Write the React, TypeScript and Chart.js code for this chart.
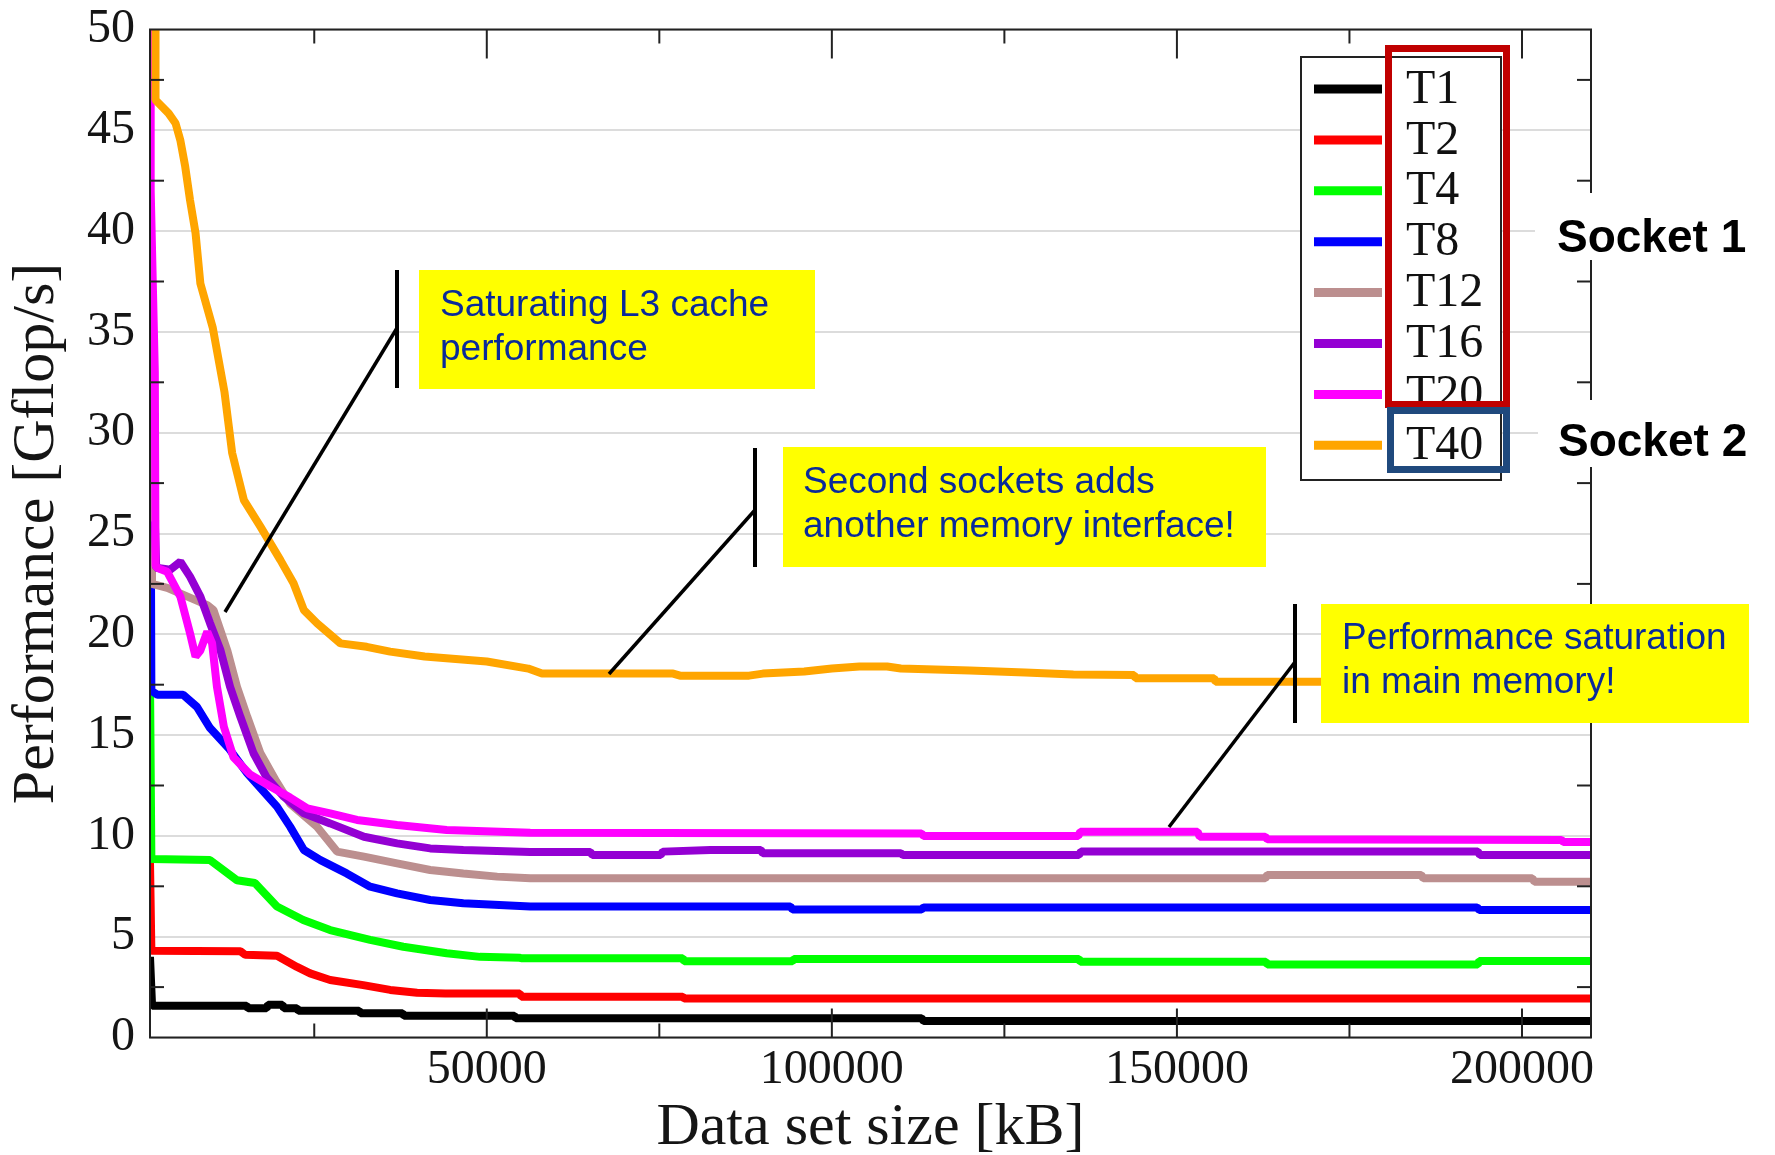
import React, { useEffect, useRef } from "react";
import { Chart, registerables } from "chart.js";

Chart.register(...registerables);

// ---------------- data ----------------
const seriesLabels = ["T1", "T2", "T4", "T8", "T12", "T16", "T20", "T40"];
const seriesColors = ["#000000", "#ff0000", "#00ff00", "#0000ff", "#bc8f8f", "#9400d3", "#ff00ff", "#ffa500"];

const t1X = [1200, 1500, 15200, 15400, 18100, 18300, 20400, 20600, 22500, 22700, 31500, 31700, 37800, 38000, 54000, 54200, 113000, 113300, 210000];
const t1Y = [4.0, 1.58, 1.58, 1.45, 1.45, 1.62, 1.62, 1.45, 1.45, 1.33, 1.33, 1.2, 1.2, 1.08, 1.08, 0.95, 0.95, 0.82, 0.82];

const t2X = [1200, 1400, 14300, 15000, 19600, 22500, 24400, 27300, 32100, 36000, 39900, 44000, 54800, 55000, 78400, 78600, 210000];
const t2Y = [8.7, 4.3, 4.28, 4.1, 4.05, 3.5, 3.18, 2.85, 2.6, 2.36, 2.22, 2.18, 2.18, 2.02, 2.02, 1.93, 1.93];

const t4X = [1200, 1400, 9900, 13800, 16400, 19600, 23400, 27300, 33100, 37900, 44200, 49000, 54800, 55000, 78400, 78600, 94300, 94500, 135800, 136000, 162900, 163100, 193600, 193800, 210000];
const t4Y = [17.8, 8.85, 8.8, 7.8, 7.66, 6.5, 5.83, 5.33, 4.84, 4.5, 4.18, 4.0, 3.95, 3.93, 3.93, 3.78, 3.78, 3.9, 3.9, 3.76, 3.76, 3.62, 3.62, 3.8, 3.8];

const t8X = [1200, 1400, 2300, 6000, 8000, 9900, 12600, 15300, 19600, 21500, 23500, 25900, 29700, 33100, 37000, 41800, 46600, 56300, 94000, 94300, 113000, 113300, 193500, 193800, 210000];
const t8Y = [38.5, 17.2, 17.0, 17.0, 16.4, 15.35, 14.35, 13.1, 11.45, 10.46, 9.3, 8.8, 8.14, 7.48, 7.15, 6.82, 6.66, 6.5, 6.5, 6.35, 6.35, 6.45, 6.45, 6.33, 6.33];

const t12X = [1200, 1500, 3700, 9500, 10400, 12400, 13800, 15300, 17200, 19500, 21500, 25400, 28300, 32200, 37000, 41800, 46600, 51500, 56300, 162800, 163100, 185400, 185700, 201500, 201800, 210000];
const t12Y = [42.7, 22.5, 22.3, 21.45, 21.2, 19.2, 17.4, 15.9, 14.1, 12.7, 11.6, 10.46, 9.22, 8.97, 8.64, 8.31, 8.14, 7.98, 7.9, 7.9, 8.06, 8.06, 7.9, 7.9, 7.73, 7.73];

const t16X = [1900, 2100, 4100, 5600, 7000, 8500, 9900, 11400, 12800, 14300, 16200, 18100, 20600, 23500, 27300, 32200, 37000, 41800, 46600, 56300, 65000, 65300, 75200, 75500, 82400, 89700, 90000, 110000, 110300, 135800, 136100, 193600, 193900, 210000];
const t16Y = [25.6, 23.3, 23.2, 23.6, 22.86, 21.87, 20.55, 19.22, 17.4, 15.9, 14.1, 12.9, 11.94, 11.12, 10.62, 9.96, 9.63, 9.38, 9.3, 9.2, 9.2, 9.05, 9.05, 9.22, 9.3, 9.3, 9.14, 9.14, 9.05, 9.05, 9.22, 9.22, 9.05, 9.05];

const t20X = [1200, 1300, 1900, 2000, 2400, 3700, 5600, 7000, 7800, 8500, 9500, 10200, 10900, 11900, 13300, 15700, 18400, 21500, 24000, 27300, 31200, 37000, 44200, 56300, 113000, 113300, 135700, 136000, 153000, 153300, 162800, 163100, 205700, 206000, 210000];
const t20Y = [52, 42, 33, 23.4, 23.27, 23.1, 21.87, 20.05, 18.9, 19.2, 20.13, 19.55, 17.4, 15.42, 13.9, 13.05, 12.5, 11.9, 11.37, 11.12, 10.79, 10.54, 10.29, 10.16, 10.12, 10.0, 10.0, 10.2, 10.2, 9.96, 9.96, 9.83, 9.8, 9.7, 9.7];

const t40X = [2000, 2000, 3900, 4900, 5600, 6300, 7000, 7800, 8500, 10300, 12000, 13100, 14800, 17200, 20100, 22000, 23500, 25400, 28800, 32600, 36000, 41000, 50000, 56000, 58000, 77000, 78000, 88000, 90000, 96000, 100000, 104000, 108000, 110000, 120000, 128000, 135000, 143800, 144000, 155400, 155600, 170700, 210000];
const t40Y = [52, 46.5, 45.84, 45.35, 44.5, 43.2, 41.54, 39.9, 37.4, 35.2, 32.0, 29.0, 26.66, 25.34, 23.68, 22.53, 21.2, 20.55, 19.55, 19.38, 19.14, 18.9, 18.65, 18.3, 18.05, 18.05, 17.95, 17.95, 18.05, 18.15, 18.3, 18.4, 18.4, 18.3, 18.2, 18.1, 18.0, 17.98, 17.82, 17.82, 17.65, 17.65, 17.55];

const seriesX = [t1X, t2X, t4X, t8X, t12X, t16X, t20X, t40X];
const seriesY = [t1Y, t2Y, t4Y, t8Y, t12Y, t16Y, t20Y, t40Y];

const xMajorTicks = [50000, 100000, 150000, 200000];
const xMinorTicks = [25000, 75000, 125000, 175000];
const yMajorTicks = [0, 5, 10, 15, 20, 25, 30, 35, 40, 45, 50];
const yMinorTicks = [2.5, 7.5, 12.5, 17.5, 22.5, 27.5, 32.5, 37.5, 42.5, 47.5];

const xTitle = "Data set size [kB]";
const yTitle = "Performance [Gflop/s]";

const note1 = ["Saturating L3 cache", "performance"];
const note2 = ["Second sockets adds", "another memory interface!"];
const note3 = ["Performance saturation", "in main memory!"];
const socketLabels = ["Socket 1", "Socket 2"];

// ---------------- styling / layout ----------------
const SERIF = '"Liberation Serif", "Times New Roman", serif';
const SANS = '"Liberation Sans", Arial, sans-serif';
const NOTE_COLOR = "#0a2a9a";

const notes = [
  { lines: note1, box: [419, 270, 396, 119], tx: 440, base: [316, 360], vx: 397, vy: [270, 388], diag: [397, 328, 225, 612] },
  { lines: note2, box: [783, 447, 483, 120], tx: 803, base: [493, 537], vx: 755, vy: [448, 567], diag: [755, 510, 609, 674] },
  { lines: note3, box: [1321, 604, 428, 119], tx: 1342, base: [649, 693], vx: 1295, vy: [604, 723], diag: [1295, 662, 1169, 827] },
];

const overlayPlugin = {
  id: "overlay",
  afterDraw(chart: any) {
    const ctx: CanvasRenderingContext2D = chart.ctx;
    const { left, right, top, bottom } = chart.chartArea;
    const xs = chart.scales.x;
    const ys = chart.scales.y;
    ctx.save();

    const seg = (x1: number, y1: number, x2: number, y2: number) => {
      ctx.beginPath();
      ctx.moveTo(x1, y1);
      ctx.lineTo(x2, y2);
      ctx.stroke();
    };

    // frame + tick marks
    ctx.strokeStyle = "#222";
    ctx.lineWidth = 2;
    ctx.lineCap = "butt";
    for (const v of xMajorTicks) {
      const p = xs.getPixelForValue(v);
      seg(p, bottom, p, bottom - 29);
      seg(p, top, p, top + 29);
    }
    for (const v of xMinorTicks) {
      const p = xs.getPixelForValue(v);
      seg(p, bottom, p, bottom - 14);
      seg(p, top, p, top + 14);
    }
    for (const v of yMinorTicks) {
      const p = ys.getPixelForValue(v);
      seg(left, p, left + 14, p);
      seg(right, p, right - 14, p);
    }
    ctx.strokeRect(left, top, right - left, bottom - top);

    // legend box
    const lgX = 1301, lgY = 57, lgW = 200, lgH = 423;
    ctx.fillStyle = "#ffffff";
    ctx.fillRect(lgX, lgY, lgW, lgH);
    ctx.strokeStyle = "#222";
    ctx.lineWidth = 2;
    ctx.strokeRect(lgX, lgY, lgW, lgH);
    ctx.font = `48px ${SERIF}`;
    ctx.textBaseline = "middle";
    ctx.textAlign = "left";
    chart.data.datasets.forEach((ds: any, i: number) => {
      const y = 89 + i * 50.9;
      ctx.strokeStyle = ds.borderColor;
      ctx.lineWidth = 9;
      seg(1314, y, 1382, y);
      ctx.fillStyle = "#111";
      ctx.fillText(ds.label, 1406, y + 1);
    });

    // socket rectangles
    ctx.lineWidth = 7;
    ctx.strokeStyle = "#c00000";
    ctx.strokeRect(1388.5, 48.5, 118, 356);
    ctx.strokeStyle = "#1f497d";
    ctx.strokeRect(1390.5, 410.5, 116, 59);

    // annotations
    for (const n of notes) {
      const [bx, by, bw, bh] = n.box;
      ctx.fillStyle = "#ffff00";
      ctx.fillRect(bx, by, bw, bh);
      ctx.fillStyle = NOTE_COLOR;
      ctx.font = `37px ${SANS}`;
      ctx.textBaseline = "alphabetic";
      ctx.textAlign = "left";
      n.lines.forEach((t, i) => ctx.fillText(t, n.tx, n.base[i]));
      ctx.strokeStyle = "#000";
      ctx.lineWidth = 4;
      seg(n.vx, n.vy[0], n.vx, n.vy[1]);
      ctx.lineWidth = 3.5;
      seg(n.diag[0], n.diag[1], n.diag[2], n.diag[3]);
    }

    // socket labels
    const sock = [
      { t: socketLabels[0], bx: 1535, by: 193, bh: 67, tx: 1557, ty: 252 },
      { t: socketLabels[1], bx: 1538, by: 400, bh: 67, tx: 1558, ty: 456 },
    ];
    for (const s of sock) {
      ctx.fillStyle = "#ffffff";
      ctx.fillRect(s.bx, s.by, 1775 - s.bx, s.bh);
      ctx.fillStyle = "#000";
      ctx.font = `bold 46px ${SANS}`;
      ctx.textBaseline = "alphabetic";
      ctx.fillText(s.t, s.tx, s.ty);
    }
    ctx.restore();
  },
};

export default function App() {
  const canvasRef = useRef<HTMLCanvasElement | null>(null);

  useEffect(() => {
    const canvas = canvasRef.current;
    if (!canvas) return;
    const datasets = seriesLabels.map((label, i) => ({
      label,
      data: seriesX[i].map((x, k) => ({ x, y: seriesY[i][k] })),
      borderColor: seriesColors[i],
      backgroundColor: seriesColors[i],
      borderWidth: 8,
      pointRadius: 0,
      tension: 0,
      fill: false,
      borderJoinStyle: "bevel" as const,
      order: seriesLabels.length - i,
    }));

    const chart = new Chart(canvas, {
      type: "line",
      data: { datasets },
      options: {
        animation: false,
        responsive: false,
        maintainAspectRatio: false,
        parsing: false as any,
        layout: { padding: { left: 0, top: 29.5, right: 184, bottom: 0 } },
        plugins: {
          legend: { display: false },
          tooltip: { enabled: false },
          title: { display: false },
        },
        scales: {
          x: {
            type: "linear",
            min: 1200,
            max: 210000,
            afterFit: (s: any) => {
              s.height = 117.5;
              s.paddingLeft = 0;
              s.paddingRight = 0;
              s.paddingTop = 0;
              s.paddingBottom = 0;
            },
            afterBuildTicks: (s: any) => { s.ticks = xMajorTicks.map((v) => ({ value: v })); },
            ticks: {
              padding: 4.5,
              autoSkip: false,
              maxRotation: 0,
              color: "#151515",
              font: { family: SERIF, size: 48 },
              callback: (v: any) => String(v),
            },
            grid: { display: false, drawTicks: false },
            border: { display: false },
            title: {
              display: true,
              text: xTitle,
              color: "#151515",
              font: { family: SERIF, size: 60, lineHeight: 0.9 },
              padding: { top: 0, bottom: 0 },
            },
          },
          y: {
            type: "linear",
            min: 0,
            max: 50,
            afterFit: (s: any) => {
              s.width = 150;
              s.paddingLeft = 0;
              s.paddingRight = 0;
              s.paddingTop = 0;
              s.paddingBottom = 0;
            },
            afterBuildTicks: (s: any) => { s.ticks = yMajorTicks.map((v) => ({ value: v })); },
            ticks: {
              padding: 15,
              color: "#151515",
              font: { family: SERIF, size: 48 },
              callback: (v: any) => String(v),
            },
            grid: { color: "#dcdcdc", lineWidth: 2, drawTicks: false },
            border: { display: false },
            title: {
              display: true,
              text: yTitle,
              color: "#151515",
              font: { family: SERIF, size: 60, lineHeight: 1 },
              padding: { top: 7.5, bottom: 0 },
            },
          },
        },
      },
      plugins: [overlayPlugin],
    });
    return () => chart.destroy();
  }, []);

  return (
    <div style={{ position: "fixed", left: 0, top: 0, width: 1775, height: 1155, background: "#ffffff" }}>
      <canvas ref={canvasRef} width={1775} height={1155} style={{ display: "block", width: 1775, height: 1155 }} />
    </div>
  );
}
